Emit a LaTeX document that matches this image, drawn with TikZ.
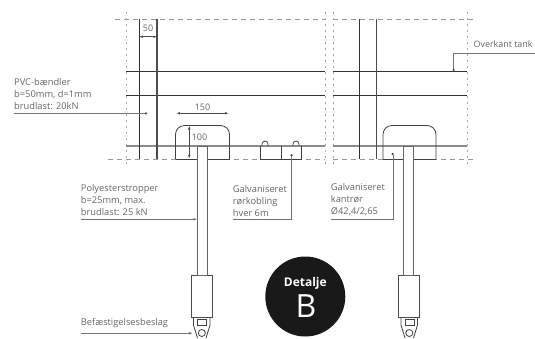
\documentclass[tikz,border=0pt]{standalone}
\usepackage{fontspec}
\setmainfont{Open Sans}
\usepackage{tikz}
\usetikzlibrary{positioning, calc, arrows.meta}

\begin{document}
\begin{tikzpicture}[
    x = 1pt, y = -1pt, > = {Latex[length=3.5pt, width=2.5pt]},
    frame/.style = {
      draw = black!40, dash pattern = on 5pt off 4pt, line width = .5pt
    },
    sideframe/.style = {
      draw = black!35, dash pattern = on 2pt off 4pt, line width = .6pt
    },
    bar/.style = {
      draw = black!80, line width = .9pt
    },
    post/.style = {
      draw = black!70, line width = 1.2pt
    },
    wirebar/.style = {
      draw = black!45, line width = 1.9pt
    },
    part/.style = {
      draw = black!75, line width = .8pt
    },
    strap/.style = {
      draw = black!60, line width = .7pt
    },
    sleeve/.style = {
      rectangle, draw = black!70, line width = .7pt, fill = white,
      inner sep = 0pt, minimum width = 21pt, minimum height = 42pt
    },
    leader/.style = {
      draw = black!55, line width = .4pt
    },
    dimline/.style = {
      <->, draw = black!70, line width = .5pt
    },
    label/.style = {
      align = left, anchor = south west, inner xsep = 0pt, inner ysep = 3pt,
      text = black!60, font = \fontsize{9.3}{12}\selectfont
    },
    dimtext/.style = {
      inner sep = 0pt, text = black!60, font = \fontsize{9}{10}\selectfont
    },
    dotmark/.style = {
      circle, fill = black!70, inner sep = 0pt, minimum size = 2.5pt
    },
    ]
\useasboundingbox (0,0) rectangle (535,338);

% dashed outline of the two sections
\draw [frame]  (115,19.5) -- (325,19.5);
\draw [frame]  (333,19.5) -- (473,19.5);
\draw [frame]  (108,159) -- (325,159);
\draw [frame]  (333,159) -- (473,159);
\draw [sideframe]  (126,12) -- (126,168);
\draw [sideframe]  (325,12) -- (325,168);
\draw [sideframe]  (333,12) -- (333,168);
\draw [sideframe]  (467,12) -- (467,168);

% bands
\draw [bar]  (126,71) -- (325,71);
\draw [bar]  (333,71) -- (467,71);
\draw [bar]  (126,95.3) -- (325,95.3);
\draw [bar]  (333,95.3) -- (467,95.3);
\draw [wirebar]  (126,146) -- (325,146);
\draw [wirebar]  (333,146) -- (467,146);
\draw [bar]  (139.3,19) -- (139.3,159);
\draw [post]  (157,19) -- (157,159);
\draw [bar]  (359.3,19) -- (359.3,159);
\draw [post]  (376.3,19) -- (376.3,159);

% tube brackets
\draw [part, rounded corners = 9pt]  (175.5,159) -- (175.5,125.5) -- (229.5,125.5) -- (229.5,159);
\draw [part]  (175.5,159) -- (229.5,159);
\draw [part, rounded corners = 9pt]  (383,159) -- (383,125.5) -- (436,125.5) -- (436,159);
\draw [part]  (383,159) -- (436,159);

% coupling
\draw [part]  (260.5,146) -- (260.5,159) -- (301.5,159) -- (301.5,146);
\draw [part]  (281,146) -- (281,159);
\draw [part]  (262,146) -- (262,144) arc[start angle = 180, end angle = 0, radius = 3pt] -- (268,146);
\draw [part]  (293,146) -- (293,144) arc[start angle = 180, end angle = 0, radius = 3pt] -- (299,146);

% hangers
\node  [sleeve]  (sleeve_1)  at (201.8,296)  {};
\node  [sleeve]  (sleeve_2)  at (409.3,296)  {};
\draw [strap, fill = white]  (197.3,146) rectangle (207.3,275);
\draw [strap, fill = white]  (403,146) rectangle (413.5,275);
\draw [part]  (193.5,317) -- (193.5,325) -- (197.5,338);
\draw [part]  (210,317) -- (210,325) -- (206,338);
\draw [part]  (197.5,319) rectangle (206.5,325);
\draw [part]  (201.8,333) circle[radius = 3.5pt];
\draw [part]  (401,317) -- (401,325) -- (405,338);
\draw [part]  (417.5,317) -- (417.5,325) -- (413.5,338);
\draw [part]  (405,319) rectangle (414,325);
\draw [part]  (409.3,333) circle[radius = 3.5pt];

% dimensions
\coordinate  (dim_50a)  at (139.3,36.7);
\coordinate  (dim_50b)  at (157,36.7);
\coordinate  (dim_150a)  at (176.5,113.3);
\coordinate  (dim_150b)  at (228.5,113.3);
\coordinate  (dim_100a)  at (189.3,126);
\coordinate  (dim_100b)  at (189.3,158.5);
\draw [dimline]  (dim_50a) -- (dim_50b);
\draw [dimline]  (dim_150a) -- (dim_150b);
\draw [dimline]  (dim_100a) -- (dim_100b);
\node  [dimtext]  (txt_50)  at (148,28)  {50};
\node  [dimtext]  (txt_150)  at (202.5,107)  {150};
\node  [dimtext]  (txt_100)  at (199.5,137)  {100};

% labels and leaders
\node  [label]  (lbl_pvc)  at (14,113.3)  {PVC-bændler\\b=50mm, d=1mm\\brudlast: 20kN};
\node  [label]  (lbl_poly)  at (80.7,219.3)  {Polyesterstropper\\b=25mm, max.\\brudlast: 25 kN};
\node  [label]  (lbl_kobling)  at (232.7,219.3)  {Galvaniseret\\rørkobling\\hver 6m};
\node  [label]  (lbl_kant)  at (330.7,219.3)  {Galvaniseret\\kantrør\\Ø42,4/2,65};
\node  [label, inner ysep = 5pt]  (lbl_beslag)  at (80.7,333.3)  {Befæstigelsesbeslag};
\node  [label, inner ysep = 5pt, font = \fontsize{8.9}{12}\selectfont]  (lbl_tank)  at (473.5,53)  {Overkant tank};

\node  [dotmark]  (dot_pvc)  at (146,113.3)  {};
\node  [dotmark]  (dot_kobling)  at (291.5,155)  {};
\node  [dotmark]  (dot_kant)  at (392.7,154)  {};
\node  [dotmark]  (dot_tank)  at (453.5,70)  {};
\coordinate  (end_poly)  at (197,219.3);
\coordinate  (end_beslag)  at (192.5,333.3);
\coordinate  (bend_tank)  at (453.5,53);
\coordinate  (end_tank)  at (535,53);

\draw [leader]  (lbl_pvc.south west) -- (dot_pvc);
\draw [leader, ->]  (lbl_poly.south west) -- (end_poly);
\draw [leader]  (lbl_kobling.south west) -| (dot_kobling);
\draw [leader]  (lbl_kant.south west) -| (dot_kant);
\draw [leader, ->]  (lbl_beslag.south west) -- (end_beslag);
\draw [leader]  (dot_tank) -- (bend_tank) -- (end_tank);

% badge
\node  [circle, fill = black!90, inner sep = 0pt, minimum size = 80pt]  (badge)  at (305.3,296.5)  {};
\node  [text = white, inner sep = 0pt, font = \fontsize{12}{13}\bfseries\selectfont]  (badge_top)  at (305.3,283)  {Detalje};
\node  [text = white, inner sep = 0pt, font = \fontsize{32}{34}\selectfont]  (badge_letter)  at (306,306.5)  {B};

\end{tikzpicture}
\end{document}
